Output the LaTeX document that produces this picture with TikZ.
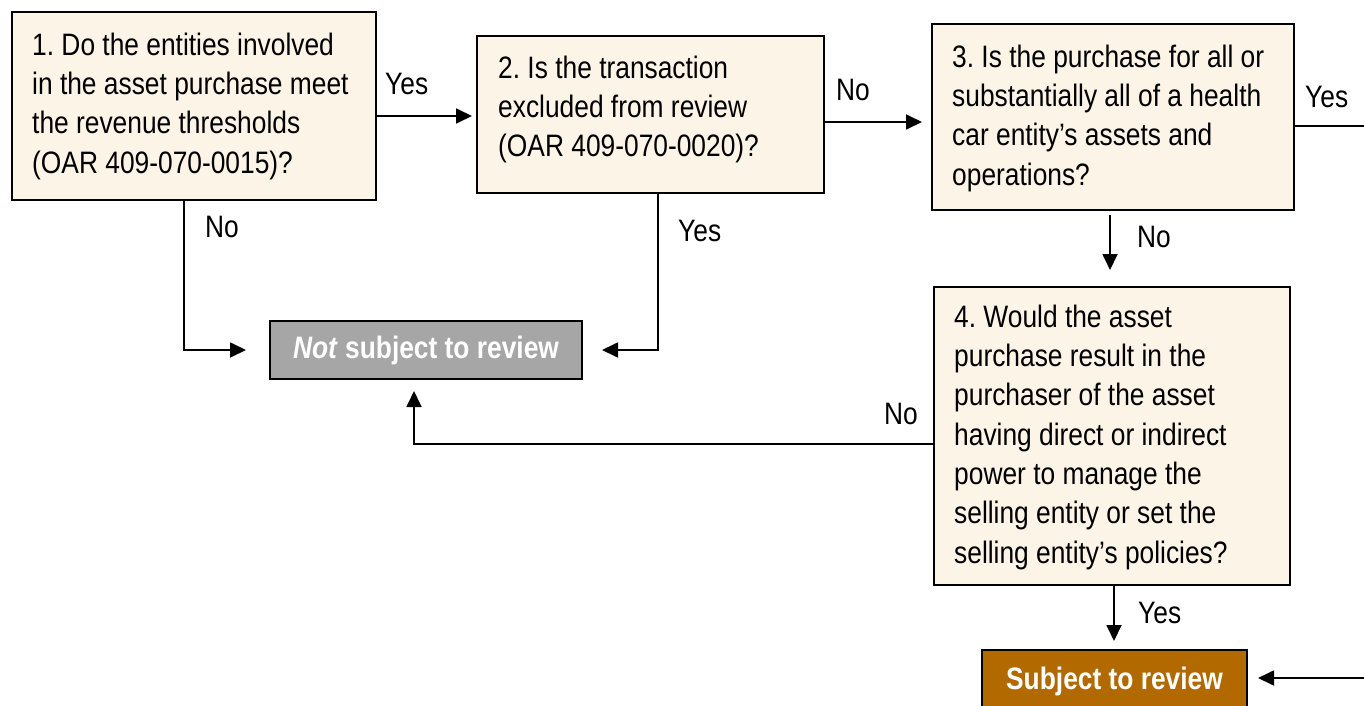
\documentclass[tikz,border=0pt]{standalone}
\usepackage{fontspec}
\setmainfont{Liberation Sans}[FakeStretch=0.85]
\usetikzlibrary{arrows.meta,calc}
\definecolor{beige}{HTML}{FDF4E8}
\definecolor{greybox}{HTML}{A6A6A6}
\definecolor{brownbox}{HTML}{B26900}
\frenchspacing
\begin{document}
\begin{tikzpicture}[x=1pt,y=-1pt,
  qbox/.style={draw=black, line width=1.8pt, fill=beige, anchor=north west, inner sep=0pt, outer sep=0pt},
  txt/.style={anchor=north west, inner sep=0pt, align=left, font=\fontsize{31}{39.3}\selectfont},
  endbox/.style={draw=black, line width=1.8pt, anchor=north west, inner sep=0pt, outer sep=0pt, text=white, font=\fontsize{31}{37}\selectfont\bfseries},
  lbl/.style={anchor=west, inner sep=0pt, font=\fontsize{31}{37}\selectfont},
  conn/.style={line width=1.8pt},
  arr/.style={conn, -{Triangle[length=16pt,width=15pt]}},
]
\clip (0,0) rectangle (1364,706);
\fill[white] (0,0) rectangle (1364,706);

% question boxes
\node[qbox, minimum width=364pt, minimum height=188pt] (b1) at (12,12) {};
\node[qbox, minimum width=347pt, minimum height=157pt] (b2) at (477,36) {};
\node[qbox, minimum width=362pt, minimum height=186pt] (b3) at (932,24) {};
\node[qbox, minimum width=356pt, minimum height=298pt] (b4) at (934,287) {};

\node[txt] (t1) at (32,31) {\rule{0pt}{24pt}1. Do the entities involved\\in the asset purchase meet\\the revenue thresholds\\(OAR 409-070-0015)?};
\node[txt] (t2) at (498,54) {\rule{0pt}{24pt}2. Is the transaction\\excluded from review\\(OAR 409-070-0020)?};
\node[txt] (t3) at (952,43) {\rule{0pt}{24pt}3. Is the purchase for all or\\substantially all of a health\\car entity’s assets and\\operations?};
\node[txt] (t4) at (954,303) {\rule{0pt}{24pt}4. Would the asset\\purchase result in the\\purchaser of the asset\\having direct or indirect\\power to manage the\\selling entity or set the\\selling entity’s policies?};

% outcome boxes
\node[endbox, fill=greybox, minimum width=312pt, minimum height=58pt] (nsr) at (270,321) {\raisebox{-2pt}{\textit{Not} subject to review}};
\node[endbox, fill=brownbox, minimum width=265pt, minimum height=62pt] (subj) at (982,650) {Subject to review};

% off-picture ends
\coordinate (edgeA) at (1364,126);
\coordinate (edgeB) at (1364,678);

% connectors
\draw[arr] ($(b1.north east)+(0,104)$) coordinate (s12) -- ($(b2.west |- s12)+(-5,0)$);
\draw[arr] ($(b2.north east)+(0,86)$) coordinate (s23) -- ($(b3.west |- s23)+(-10,0)$);
\draw[conn] (b3.east |- edgeA) -- (edgeA);
\draw[arr] (edgeB) -- ($(subj.east |- edgeB)+(11,0)$);
\draw[arr] ($(b3.south)+(-3,5)$) coordinate (s34) -- ($(s34 |- b4.north)+(0,-17)$);
\draw[arr] ($(b4.south)+(2,0)$) coordinate (s4s) -- ($(s4s |- subj.north)+(0,-9)$);
\draw[arr] ($(b1.south west)+(172,0)$) coordinate (s1n) -- (s1n |- nsr.west) -- ($(nsr.west)+(-24,0)$);
\draw[arr] ($(b2.south west)+(181,0)$) coordinate (s2y) -- (s2y |- nsr.east) -- ($(nsr.east)+(20,0)$);
\draw[arr] ($(b4.north west)+(0,157)$) coordinate (s4n) -- ($(nsr.south |- s4n)+(-12,0)$) coordinate (c4) -- ($(c4 |- nsr.south)+(0,12)$);

% labels
\node[lbl] (l12) at (385,84) {Yes};
\node[lbl] (l23) at (836,90) {No};
\node[lbl] (l3y) at (1305,97) {Yes};
\node[lbl] (l34) at (1137,237) {No};
\node[lbl] (l1n) at (205,227) {No};
\node[lbl] (l2y) at (678,231) {Yes};
\node[lbl] (l4n) at (884,414) {No};
\node[lbl] (l4y) at (1138,613) {Yes};
\end{tikzpicture}
\end{document}
